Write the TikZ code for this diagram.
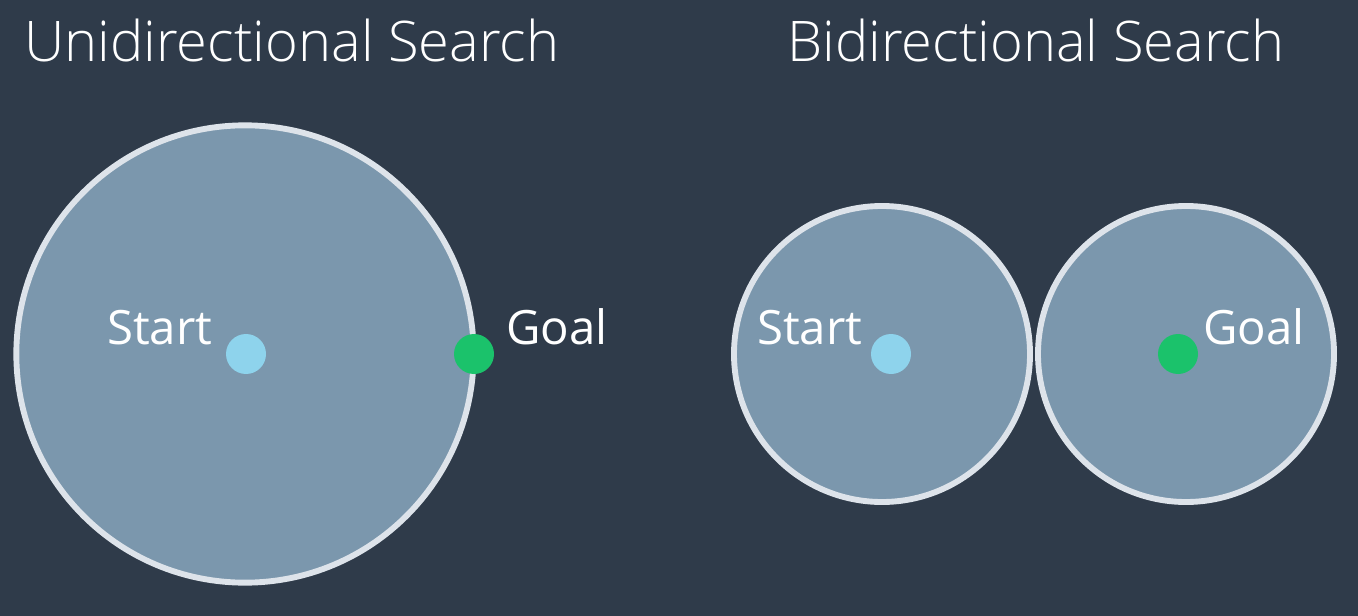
\documentclass[tikz,border=0pt]{standalone}
\usepackage{fontspec}
\setmainfont{Open Sans}
\IfFontExistsTF{Open Sans Light}{\newfontfamily\titlefont{Open Sans Light}\def\titlesize{42}}{\newfontfamily\titlefont{Open Sans}\def\titlesize{41}}
\definecolor{bgc}{HTML}{2F3B4A}
\definecolor{fillc}{HTML}{7B97AD}
\definecolor{ringc}{HTML}{DDE3EA}
\definecolor{startc}{HTML}{8ED3EC}
\definecolor{goalc}{HTML}{1BC26B}
\begin{document}
\begin{tikzpicture}[x=0.75pt,y=-0.75pt,
  region/.style={circle,draw=ringc,fill=fillc,line width=4.4pt,inner sep=0pt},
  dot/.style={circle,inner sep=0pt,minimum size=30pt},
  title/.style={anchor=base west,text=white,inner sep=0pt,font=\titlefont\fontsize{\titlesize}{50}\selectfont},
  lbl/.style={anchor=base west,text=white,inner sep=0pt,font=\fontsize{35.5}{40}\selectfont}]
\fill[bgc] (0,0) rectangle (1358,616);
\useasboundingbox (0,0) rectangle (1358,616);
\node[title] (t1) at (24,62) {Unidirectional Search};
\node[title] (t2) at (787,62) {Bidirectional Search};
% unidirectional
\node[region,minimum size=343pt] (big) at (245,354) {};
\node[dot,fill=startc] (s1) at (246,354) {};
\node[dot,fill=goalc] (g1) at (474,354) {};
\node[lbl] (ls1) at (107,344) {Start};
\node[lbl] (lg1) at (506,344) {Goal};
% bidirectional
\node[region,minimum size=222pt] (c1) at (882,354) {};
\node[region,minimum size=222pt] (c2) at (1186,354) {};
\node[dot,fill=startc] (s2) at (891,354) {};
\node[dot,fill=goalc] (g2) at (1178,354) {};
\node[lbl] (ls2) at (757,344) {Start};
\node[lbl] (lg2) at (1203,344) {Goal};
\end{tikzpicture}
\end{document}
